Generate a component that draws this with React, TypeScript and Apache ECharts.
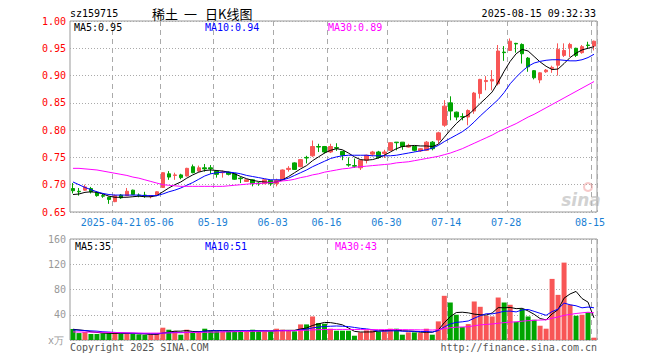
import React, { useEffect, useRef } from "react";
import * as echarts from "echarts";

const dates = [
  "2025-04-10","2025-04-11","2025-04-14","2025-04-15","2025-04-16","2025-04-17","2025-04-18","2025-04-21","2025-04-22","2025-04-23",
  "2025-04-24","2025-04-25","2025-04-28","2025-04-29","2025-04-30","2025-05-06","2025-05-07","2025-05-08","2025-05-09","2025-05-12",
  "2025-05-13","2025-05-14","2025-05-15","2025-05-16","2025-05-19","2025-05-20","2025-05-21","2025-05-22","2025-05-23","2025-05-26",
  "2025-05-27","2025-05-28","2025-05-29","2025-05-30","2025-06-03","2025-06-04","2025-06-05","2025-06-06","2025-06-09","2025-06-10",
  "2025-06-11","2025-06-12","2025-06-13","2025-06-16","2025-06-17","2025-06-18","2025-06-19","2025-06-20","2025-06-23","2025-06-24",
  "2025-06-25","2025-06-26","2025-06-27","2025-06-30","2025-07-01","2025-07-02","2025-07-03","2025-07-04","2025-07-07","2025-07-08",
  "2025-07-09","2025-07-10","2025-07-11","2025-07-14","2025-07-15","2025-07-16","2025-07-17","2025-07-18","2025-07-21","2025-07-22",
  "2025-07-23","2025-07-24","2025-07-25","2025-07-28","2025-07-29","2025-07-30","2025-07-31","2025-08-01","2025-08-04","2025-08-05",
  "2025-08-06","2025-08-07","2025-08-08","2025-08-11","2025-08-12","2025-08-13","2025-08-14","2025-08-15",
];

// [open, close, low, high]
const ohlc = [
  [0.693,0.689,0.684,0.703],[0.688,0.687,0.680,0.694],[0.690,0.696,0.689,0.700],[0.693,0.687,0.684,0.696],[0.686,0.680,0.678,0.688],
  [0.680,0.679,0.676,0.683],[0.677,0.673,0.665,0.678],[0.669,0.680,0.668,0.682],[0.681,0.676,0.674,0.683],[0.680,0.688,0.679,0.694],
  [0.690,0.682,0.681,0.691],[0.681,0.680,0.677,0.684],[0.681,0.680,0.676,0.687],[0.678,0.680,0.675,0.681],[0.681,0.687,0.680,0.688],
  [0.695,0.722,0.694,0.723],[0.720,0.714,0.709,0.725],[0.717,0.718,0.709,0.722],[0.718,0.713,0.710,0.720],[0.716,0.730,0.715,0.731],
  [0.733,0.722,0.721,0.737],[0.725,0.731,0.723,0.735],[0.731,0.729,0.724,0.738],[0.731,0.729,0.720,0.736],[0.725,0.719,0.713,0.727],
  [0.722,0.723,0.713,0.726],[0.723,0.719,0.717,0.724],[0.720,0.710,0.709,0.721],[0.712,0.711,0.703,0.714],[0.706,0.709,0.705,0.710],
  [0.709,0.702,0.697,0.710],[0.703,0.702,0.698,0.705],[0.702,0.709,0.701,0.710],[0.708,0.702,0.698,0.709],[0.702,0.708,0.697,0.711],
  [0.709,0.727,0.708,0.728],[0.728,0.730,0.724,0.734],[0.740,0.728,0.727,0.741],[0.733,0.746,0.732,0.747],[0.750,0.749,0.739,0.753],
  [0.753,0.770,0.751,0.781],[0.770,0.769,0.760,0.775],[0.770,0.760,0.757,0.771],[0.760,0.770,0.758,0.775],[0.768,0.767,0.762,0.776],
  [0.761,0.754,0.745,0.762],[0.737,0.736,0.733,0.750],[0.735,0.734,0.731,0.748],[0.731,0.745,0.727,0.746],[0.745,0.754,0.739,0.755],
  [0.756,0.760,0.752,0.762],[0.760,0.750,0.748,0.762],[0.757,0.760,0.749,0.764],[0.763,0.777,0.762,0.778],[0.778,0.777,0.763,0.778],
  [0.778,0.770,0.764,0.778],[0.769,0.772,0.768,0.775],[0.770,0.763,0.761,0.771],[0.762,0.766,0.760,0.767],[0.763,0.778,0.762,0.780],
  [0.778,0.766,0.763,0.780],[0.782,0.795,0.775,0.797],[0.809,0.844,0.806,0.855],[0.850,0.835,0.818,0.862],[0.833,0.824,0.818,0.834],
  [0.825,0.824,0.818,0.831],[0.824,0.836,0.809,0.838],[0.835,0.868,0.830,0.870],[0.867,0.893,0.858,0.894],[0.889,0.891,0.873,0.899],
  [0.890,0.893,0.873,0.910],[0.885,0.945,0.882,0.956],[0.943,0.942,0.927,0.954],[0.946,0.963,0.945,0.968],[0.959,0.958,0.942,0.960],
  [0.957,0.940,0.922,0.959],[0.932,0.916,0.907,0.934],[0.909,0.896,0.893,0.910],[0.892,0.905,0.886,0.906],[0.907,0.910,0.905,0.912],
  [0.913,0.915,0.905,0.918],[0.919,0.948,0.900,0.959],[0.937,0.946,0.934,0.959],[0.951,0.957,0.934,0.960],[0.950,0.937,0.934,0.951],
  [0.942,0.953,0.940,0.956],[0.956,0.955,0.949,0.962],[0.954,0.963,0.946,0.964],
];

const ma5 = [
  0.682,0.683,0.686,0.687,0.686,0.683,0.679,0.677,0.677,0.677,
  0.678,0.679,0.678,0.678,0.680,0.687,0.694,0.700,0.705,0.712,
  0.718,0.723,0.726,0.727,0.726,0.725,0.723,0.720,0.715,0.711,
  0.708,0.706,0.705,0.704,0.705,0.709,0.715,0.722,0.729,0.735,
  0.744,0.751,0.758,0.763,0.766,0.764,0.758,0.751,0.746,0.745,
  0.746,0.749,0.754,0.760,0.766,0.770,0.771,0.772,0.771,0.771,
  0.770,0.774,0.787,0.800,0.812,0.822,0.828,0.838,0.849,0.859,
  0.870,0.888,0.908,0.926,0.940,0.948,0.945,0.935,0.925,0.917,
  0.911,0.912,0.922,0.933,0.941,0.947,0.950,0.953,
];
const ma10 = [
  0.705,0.700,0.695,0.691,0.687,0.684,0.682,0.681,0.681,0.681,
  0.681,0.681,0.680,0.680,0.680,0.683,0.687,0.690,0.694,0.699,
  0.704,0.710,0.716,0.720,0.722,0.723,0.723,0.722,0.720,0.717,
  0.715,0.713,0.711,0.709,0.709,0.709,0.712,0.717,0.722,0.727,
  0.733,0.738,0.743,0.748,0.751,0.753,0.754,0.754,0.754,0.754,
  0.753,0.753,0.753,0.753,0.754,0.756,0.758,0.760,0.762,0.764,
  0.767,0.772,0.779,0.785,0.791,0.797,0.805,0.815,0.826,0.836,
  0.846,0.856,0.869,0.885,0.897,0.908,0.917,0.923,0.926,0.928,
  0.929,0.929,0.928,0.927,0.927,0.929,0.933,0.939,
];
const ma30 = [
  0.730,0.730,0.729,0.728,0.727,0.725,0.723,0.721,0.719,0.717,
  0.714,0.712,0.709,0.706,0.703,0.700,0.699,0.698,0.697,0.697,
  0.697,0.697,0.697,0.697,0.697,0.697,0.698,0.699,0.700,0.701,
  0.702,0.702,0.703,0.704,0.705,0.707,0.708,0.710,0.713,0.715,
  0.718,0.720,0.723,0.725,0.727,0.729,0.730,0.732,0.733,0.734,
  0.735,0.736,0.737,0.738,0.740,0.741,0.742,0.744,0.746,0.748,
  0.750,0.752,0.755,0.758,0.762,0.766,0.771,0.776,0.781,0.786,
  0.791,0.797,0.802,0.807,0.812,0.818,0.824,0.829,0.835,0.841,
  0.847,0.853,0.859,0.865,0.871,0.877,0.883,0.889,
];

const volumes = [
  17.4,11.0,12.6,9.5,9.5,10.5,10.5,12.6,9.5,10.5,
  9.5,8.9,7.9,8.9,10.5,19.5,16.3,14.2,8.4,16.3,
  12.1,14.2,17.9,14.2,14.2,13.7,14.2,14.2,14.7,13.7,
  16.3,14.2,13.7,13.7,17.9,16.3,14.7,13.7,24.7,24.7,
  37.3,26.8,25.8,17.9,14.7,14.7,14.7,6.8,12.1,15.3,
  15.3,13.7,15.3,17.9,17.9,8.4,12.1,12.1,11.0,17.9,
  8.4,29.5,70.0,59.4,40.0,20.5,25.2,61.0,52.6,38.4,
  37.3,67.3,59.4,55.8,28.9,49.4,37.3,32.1,22.6,17.9,
  96.8,71.5,122.6,55.8,38.4,40.0,43.7,3.7,
];
const volMa5 = [
  17,16,15,13,12,11,10.5,10.5,10.5,10.5,
  10.5,10,9.5,9,9,11,12.5,14,14,15,
  13.5,13,14,15,15,14.8,14.8,14.3,14.2,14.2,
  14.6,14.6,14.5,14.3,15,15.2,15.3,15.3,17.5,19,
  23,25.5,27.8,27.5,26,24,19,13.7,12.6,12.7,
  12.8,14.3,15.1,15.5,16,14.6,14.3,13.7,12.3,12.3,
  12.3,15.8,27.4,37,43.5,44,43,41,40,39.5,
  42.8,51.3,51,51.6,49.7,50.2,46,40.7,34,31.9,
  41.3,48.2,66.3,72.9,77,65.7,60,35,
];
const volMa10 = [
  16,15.5,15,14.5,14,13,12.5,12,11.5,11,
  10.8,10.5,10.2,10,9.8,10.8,11.5,12,11.8,12.2,
  12.2,12.7,14,14.5,14.8,14.3,14.1,14.5,14.6,14.6,
  14.7,14.7,14.6,14.5,14.8,14.9,14.9,14.8,16.1,17.1,
  19.2,20.4,21.5,21.8,22.2,21.8,21.3,19.9,18.5,17.6,
  16.3,14.2,14,14.5,14.6,14,13.8,13.8,13.4,13.5,
  12.6,14.9,20.7,25.4,27.9,28.8,30.1,34.5,38.5,41.6,
  41.4,43.2,45.6,45.8,44.5,47.6,48.4,45.4,42.3,39.1,
  45,48.9,58.5,55.8,54.2,51,52.2,51,
];
const volMa30 = [
  12.8,12.7,12.6,12.5,12.4,12.2,12,11.8,11.6,11.4,
  11.2,11,10.9,10.9,10.9,11,11.2,11.4,11.5,11.7,
  11.9,12,12.2,12.4,12.6,12.8,13,13.2,13.4,13.6,
  13.8,13.9,14,14.2,14.4,14.6,14.7,14.8,15.2,15.5,
  16,16.3,16.6,16.7,16.8,16.8,16.8,16.6,16.5,16.5,
  16.4,16.4,16.4,16.5,16.5,16.4,16.3,16.2,16,16,
  15.8,16.3,17.9,19.4,20.3,20.6,21,22.6,23.9,24.7,
  25.4,26.5,27.5,28.3,28.8,29.8,30.6,31.2,31.6,32,
  34.5,36.5,39,40.5,42,43,44,43,
];

const labelDates = ["2025-04-21","2025-05-06","2025-05-19","2025-06-03","2025-06-16","2025-06-30","2025-07-14","2025-07-28","2025-08-15"];
const fullLabelDate = "2025-04-21";

const RED = "#f85656";
const GREEN = "#00a400";
const MONO = "'DejaVu Sans Mono', monospace";
const CJK = "'Noto Sans CJK SC', sans-serif";

export default function App() {
  const ref = useRef<HTMLDivElement>(null);
  useEffect(() => {
    const chart = echarts.init(ref.current!, null, { renderer: "svg" });
    const isLabel = (i: number) => labelDates.includes(dates[i]);
    const splitX = { show: true, interval: (i: number) => isLabel(i), lineStyle: { color: "#aaa", type: [5, 4], width: 1 } };
    const txt = (text: string, x: number, y: number, fill: string, align = "left", font = `10px ${MONO}`) => ({
      type: "text", x, y, silent: true, z: 100,
      style: { text, fill, font, textAlign: align, textVerticalAlign: "middle" },
    });
    const line = (data: number[], color: string, xi: number) => ({
      type: "line", data, xAxisIndex: xi, yAxisIndex: xi, symbol: "none", silent: true,
      lineStyle: { color, width: 1 }, z: 5,
    });
    chart.setOption({
      animation: false,
      backgroundColor: "#fff",
      grid: [
        { left: 70, top: 21, width: 527, height: 191, show: true, borderColor: "#999", borderWidth: 1 },
        { left: 70, top: 239, width: 527, height: 101, show: true, borderColor: "#999", borderWidth: 1 },
      ],
      xAxis: [
        {
          type: "category", gridIndex: 0, data: dates, boundaryGap: true,
          axisLine: { show: false }, axisTick: { show: false },
          axisLabel: {
            interval: (i: number) => isLabel(i),
            formatter: (v: string) => (v === fullLabelDate ? v : v.slice(5)),
            color: "#1a7fd4", fontFamily: MONO, fontSize: 10, margin: 5, padding: [0, 8, 0, 0],
          },
          splitLine: splitX,
        },
        {
          type: "category", gridIndex: 1, data: dates, boundaryGap: true,
          axisLine: { show: false }, axisTick: { show: false }, axisLabel: { show: false },
          splitLine: splitX,
        },
      ],
      yAxis: [
        {
          type: "value", gridIndex: 0, min: 0.65, max: 1.0, interval: 0.05,
          axisLine: { show: false }, axisTick: { show: false },
          axisLabel: { color: "#f00", fontFamily: MONO, fontSize: 10, margin: 4, formatter: (v: number) => v.toFixed(2) },
          splitLine: { lineStyle: { color: "#aaa", type: [1, 2], width: 1 } },
        },
        {
          type: "value", gridIndex: 1, min: 0, max: 160, interval: 40,
          axisLine: { show: false }, axisTick: { show: false },
          axisLabel: { color: "#999", fontFamily: MONO, fontSize: 10, margin: 4, formatter: (v: number) => (v === 0 ? "" : String(v)) },
          splitLine: { lineStyle: { color: "#aaa", type: [1, 2], width: 1 } },
        },
      ],
      series: [
        {
          type: "candlestick", xAxisIndex: 0, yAxisIndex: 0, data: ohlc, barWidth: 4, silent: true,
          itemStyle: { color: RED, color0: GREEN, borderColor: RED, borderColor0: GREEN, borderWidth: 1 },
        },
        line(ma5, "#000", 0),
        line(ma10, "#0000ff", 0),
        line(ma30, "#ff00ff", 0),
        {
          type: "bar", xAxisIndex: 1, yAxisIndex: 1, barWidth: 5, silent: true,
          data: volumes.map((v, i) => ({ value: v, itemStyle: { color: ohlc[i][1] >= ohlc[i][0] ? RED : GREEN } })),
        },
        line(volMa5, "#000", 1),
        line(volMa10, "#0000ff", 1),
        line(volMa30, "#ff00ff", 1),
      ],
      graphic: [
        txt("sz159715", 70, 13, "#000"),
        txt("稀土", 152, 13, "#000", "left", `13px ${CJK}`),
        txt("一", 184, 13, "#000", "left", `13px ${CJK}`),
        txt("日K线图", 205, 13, "#000", "left", `13px ${CJK}`),
        txt("2025-08-15 09:32:33", 596, 13, "#000", "right"),
        txt("MA5:0.95", 74, 27, "#000"),
        txt("MA10:0.94", 205, 27, "#0000ff"),
        txt("MA30:0.89", 328, 27, "#ff00ff"),
        txt("MA5:35", 75, 246, "#000"),
        txt("MA10:51", 205, 246, "#0000ff"),
        txt("MA30:43", 335, 246, "#ff00ff"),
        txt("x万", 64, 340, "#999", "right"),
        txt("Copyright 2025 SINA.COM", 70, 347, "#555"),
        txt("http://finance.sina.com.cn", 597, 347, "#555", "right"),
        {
          type: "circle", shape: { cx: 588, cy: 187, r: 4 }, silent: true, z: 1,
          style: { fill: "none", stroke: "rgba(240,150,150,0.5)", lineWidth: 2 },
        },
        txt("sina", 581, 200, "rgba(190,190,190,0.7)", "center", `italic bold 17px 'DejaVu Sans', sans-serif`),
      ],
    });
    return () => chart.dispose();
  }, []);
  return <div ref={ref} style={{ position: "absolute", left: 0, top: 0, width: 660, height: 360 }} />;
}
